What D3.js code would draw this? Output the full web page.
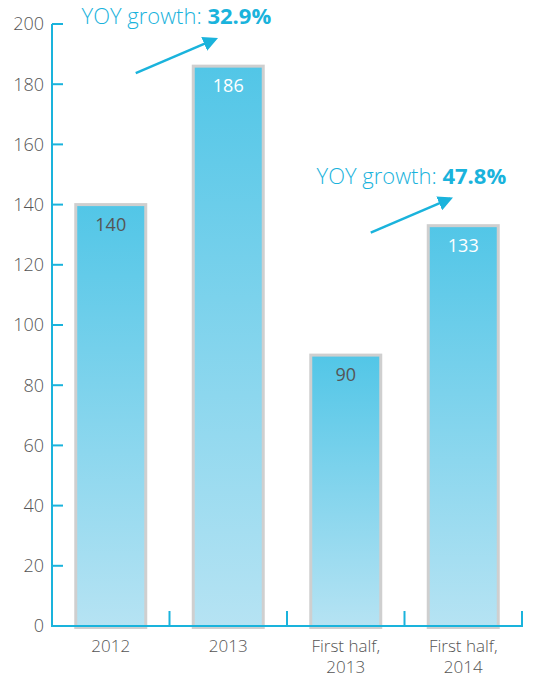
<!DOCTYPE html>
<html>
<head>
<meta charset="utf-8">
<script src="https://cdn.jsdelivr.net/npm/d3@7"></script>
<style>
	body { margin: 0; background: #fff; }
	text { font-family: "Open Sans", "Noto Sans", sans-serif; }
</style>
</head>
<body>
<svg width="535" height="678"></svg>
<script>
var categories = [['2012'], ['2013'], ['First half,', '2013'], ['First half,', '2014']];
var values = [140, 186, 90, 133];
var label_colors = ['#555', '#fff', '#555', '#fff'];
var y_ticks = [0, 20, 40, 60, 80, 100, 120, 140, 160, 180, 200];
var growth = [
	{ text: 'YOY growth: ', value: '32.9%', from: 0, to: 1 },
	{ text: 'YOY growth: ', value: '47.8%', from: 2, to: 3 }
];

var axis_color = '#1ab3dc';
var x0 = 52, x1 = 522, y0 = 626, y1 = 24;
var bar_width = 70;

var svg = d3.select('svg');

var defs = svg.append('defs');
var grad = defs.append('linearGradient')
	.attr('id', 'bar_grad')
	.attr('x1', 0).attr('x2', 0).attr('y1', 0).attr('y2', 1);
grad.append('stop').attr('offset', '0%').attr('stop-color', '#52c6e7');
grad.append('stop').attr('offset', '100%').attr('stop-color', '#b6e3f3');

defs.append('marker')
	.attr('id', 'arrow')
	.attr('viewBox', '0 0 10 10')
	.attr('refX', 8).attr('refY', 5)
	.attr('markerWidth', 6).attr('markerHeight', 6)
	.attr('orient', 'auto')
	.append('path')
	.attr('d', 'M0,0 L10,5 L0,10 z')
	.attr('fill', axis_color);

var x = d3.scaleBand()
	.domain(d3.range(categories.length))
	.range([x0, x1]);
var y = d3.scaleLinear()
	.domain([0, 200])
	.range([y0, y1]);

// Bars
var bars = svg.selectAll('.bar')
	.data(values)
	.enter().append('g')
	.attr('class', 'bar');
bars.append('rect')
	.attr('x', (d, i) => x(i) + (x.bandwidth() - bar_width) / 2)
	.attr('y', d => y(d))
	.attr('width', bar_width)
	.attr('height', d => y0 - y(d) + 1.5)
	.attr('fill', 'url(#bar_grad)')
	.attr('stroke', '#cfcfcf')
	.attr('stroke-width', 3);
bars.append('text')
	.attr('x', (d, i) => x(i) + x.bandwidth() / 2)
	.attr('y', d => y(d) + 26)
	.attr('text-anchor', 'middle')
	.attr('font-size', 18)
	.attr('fill', (d, i) => label_colors[i])
	.text(d => d);

// Y axis
var yAxis = svg.append('g');
yAxis.append('line')
	.attr('x1', x0).attr('x2', x0)
	.attr('y1', y1).attr('y2', y0)
	.attr('stroke', axis_color).attr('stroke-width', 2);
var yt = yAxis.selectAll('.ytick')
	.data(y_ticks)
	.enter().append('g')
	.attr('class', 'ytick');
yt.append('line')
	.attr('x1', x0).attr('x2', x0 + 11)
	.attr('y1', d => y(d)).attr('y2', d => y(d))
	.attr('stroke', axis_color).attr('stroke-width', 2);
yt.append('text')
	.attr('x', 44)
	.attr('y', d => y(d))
	.attr('dy', '0.35em')
	.attr('text-anchor', 'end')
	.attr('font-size', 18)
	.attr('font-weight', 300)
	.attr('fill', '#555')
	.text(d => d);

// X axis
var xAxis = svg.append('g');
xAxis.append('line')
	.attr('x1', x0 - 1).attr('x2', x1 + 1)
	.attr('y1', y0).attr('y2', y0)
	.attr('stroke', axis_color).attr('stroke-width', 2);
xAxis.selectAll('.xtick')
	.data(d3.range(categories.length))
	.enter().append('line')
	.attr('x1', i => x(i) + x.bandwidth()).attr('x2', i => x(i) + x.bandwidth())
	.attr('y1', y0).attr('y2', y0 - 15)
	.attr('stroke', axis_color).attr('stroke-width', 2);
var xl = xAxis.selectAll('.xlabel')
	.data(categories)
	.enter().append('text')
	.attr('text-anchor', 'middle')
	.attr('font-size', 17)
	.attr('font-weight', 300)
	.attr('fill', '#555');
xl.selectAll('tspan')
	.data((d, i) => d.map(t => ({ t: t, i: i })))
	.enter().append('tspan')
	.attr('x', d => x(d.i) + x.bandwidth() / 2)
	.attr('y', (d, j) => 652 + j * 21)
	.text(d => d.t);

// Growth annotations
growth.forEach(function(g)
{
	var a = x(g.from) + x.bandwidth() / 2 + 25;
	var b = x(g.to) + x.bandwidth() / 2 - 13;
	var top = y(Math.max(values[g.from], values[g.to]));
	var ya = top + 7;
	var yb = top - 27;
	svg.append('line')
		.attr('x1', a).attr('y1', ya)
		.attr('x2', b).attr('y2', yb)
		.attr('stroke', axis_color).attr('stroke-width', 2.5)
		.attr('marker-end', 'url(#arrow)');
	var t = svg.append('text')
		.attr('x', b + 56)
		.attr('y', yb - 15)
		.attr('text-anchor', 'end')
		.attr('font-size', 22)
		.attr('fill', axis_color);
	t.append('tspan').attr('font-weight', 300).text(g.text);
	t.append('tspan').attr('font-weight', 'bold').text(g.value);
});
</script>
</body>
</html>
